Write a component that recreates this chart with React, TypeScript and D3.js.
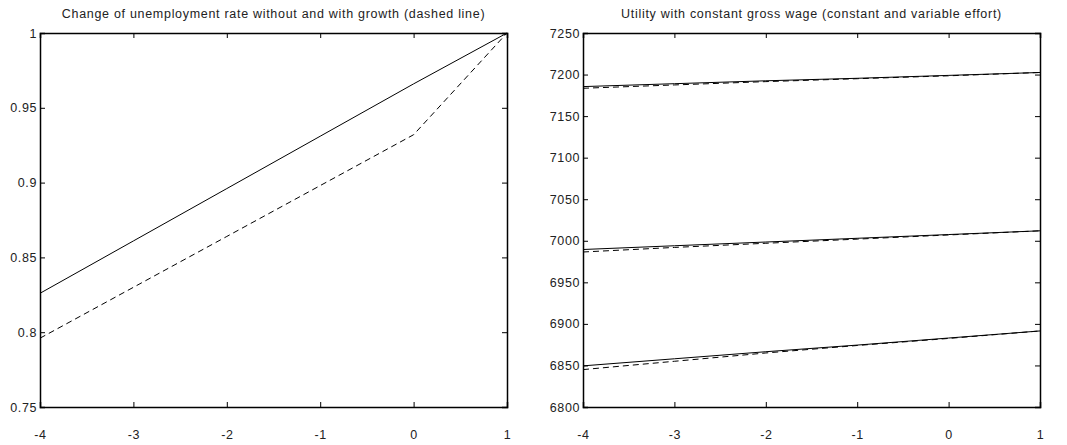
import React, { useEffect, useRef } from 'react';
import * as d3 from 'd3';

const xValues = [-4, -3, -2, -1, 0, 1];

// left panel: unemployment rate change
const unempNoGrowth = [0.826, 0.861, 0.896, 0.931, 0.966, 1.0];
const unempGrowth = [0.796, 0.830, 0.864, 0.898, 0.932, 1.0];
const leftYTicks = [0.75, 0.8, 0.85, 0.9, 0.95, 1];

// right panel: utility, constant effort (solid) vs variable effort (dashed)
const utilTopConst = [7185.5, 7189, 7192.5, 7195.5, 7199, 7202.5];
const utilTopVar = [7183.5, 7187.5, 7191.5, 7195, 7198.5, 7202.5];
const utilMidConst = [6989.5, 6994, 6998.5, 7003, 7007.5, 7012];
const utilMidVar = [6986.5, 6992, 6997, 7002, 7007, 7012];
const utilLowConst = [6849.5, 6858, 6866.5, 6874.5, 6883, 6891.5];
const utilLowVar = [6845, 6855, 6865, 6874, 6882.5, 6891.5];
const rightYTicks = [6800, 6850, 6900, 6950, 7000, 7050, 7100, 7150, 7200, 7250];

const W = 1067;
const H = 445;
const font = '"Liberation Sans", Arial, sans-serif';

type Panel = {
  left: number;
  right: number;
  title: string;
  yDomain: [number, number];
  yTicks: number[];
  series: { values: number[]; dashed: boolean }[];
};

const panels: Panel[] = [
  {
    left: 40,
    right: 507,
    title: 'Change of unemployment rate without and with growth (dashed line)',
    yDomain: [0.75, 1],
    yTicks: leftYTicks,
    series: [
      { values: unempNoGrowth, dashed: false },
      { values: unempGrowth, dashed: true },
    ],
  },
  {
    left: 583,
    right: 1040,
    title: 'Utility with constant gross wage (constant and variable effort)',
    yDomain: [6800, 7250],
    yTicks: rightYTicks,
    series: [
      { values: utilTopConst, dashed: false },
      { values: utilTopVar, dashed: true },
      { values: utilMidConst, dashed: false },
      { values: utilMidVar, dashed: true },
      { values: utilLowConst, dashed: false },
      { values: utilLowVar, dashed: true },
    ],
  },
];

const top = 33;
const bottom = 407;

export default function App() {
  const ref = useRef<SVGSVGElement>(null);

  useEffect(() => {
    const svg = d3.select(ref.current);
    svg.selectAll('*').remove();

    panels.forEach((p) => {
      const x = d3.scaleLinear().domain([-4, 1]).range([p.left, p.right]);
      const y = d3.scaleLinear().domain(p.yDomain).range([bottom, top]);
      const g = svg.append('g');

      const line = d3
        .line<number>()
        .x((d, i) => x(xValues[i]))
        .y((d) => y(d));

      p.series.forEach((s) => {
        g.append('path')
          .attr('d', line(s.values))
          .attr('fill', 'none')
          .attr('stroke', '#000')
          .attr('stroke-width', 1)
          .attr('stroke-dasharray', s.dashed ? '6,4' : null);
      });

      // axes with inward ticks, mirrored like a matlab box
      const tickLen = 5;
      const xb = g.append('g').attr('transform', `translate(0,${bottom})`)
        .call(d3.axisBottom(x).tickValues(xValues).tickSize(-tickLen).tickPadding(23).tickFormat((d) => String(d)));
      const xt = g.append('g').attr('transform', `translate(0,${top})`)
        .call(d3.axisTop(x).tickValues(xValues).tickSize(-tickLen).tickFormat(() => ''));
      const yl = g.append('g').attr('transform', `translate(${p.left},0)`)
        .call(d3.axisLeft(y).tickValues(p.yTicks).tickSize(-tickLen).tickPadding(3).tickFormat((d) => String(d)));
      const yr = g.append('g').attr('transform', `translate(${p.right},0)`)
        .call(d3.axisRight(y).tickValues(p.yTicks).tickSize(-tickLen).tickFormat(() => ''));

      [xb, xt, yl, yr].forEach((a) => {
        a.select('.domain').attr('stroke', '#000').attr('stroke-width', 1.5);
        a.selectAll('.tick line').attr('stroke', '#000');
        a.selectAll('text')
          .attr('font-family', font)
          .attr('font-size', 12.5)
          .attr('letter-spacing', 0.6)
          .attr('fill', '#222');
      });

      g.append('text')
        .attr('x', (p.left + p.right) / 2)
        .attr('y', 18)
        .attr('text-anchor', 'middle')
        .attr('font-family', font)
        .attr('font-size', 12.5)
        .attr('letter-spacing', 0.7)
        .attr('fill', '#222')
        .text(p.title);
    });
  }, []);

  return (
    <svg ref={ref} width={W} height={H} style={{ position: 'absolute', left: 0, top: 0, background: '#fff' }} />
  );
}
